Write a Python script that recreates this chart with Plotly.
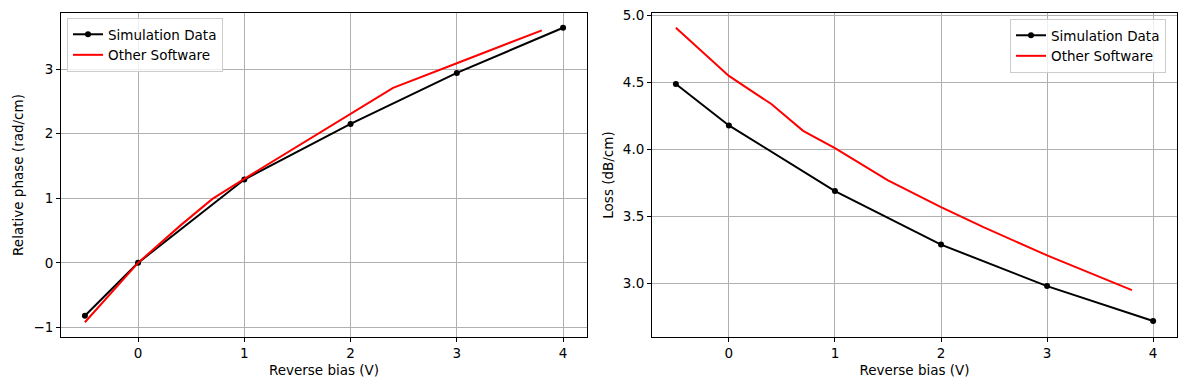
import plotly.graph_objects as go

# Left panel: relative phase
sim_bias = [-0.5, 0, 1, 2, 3, 4]
sim_phase = [-0.82, 0.0, 1.29, 2.15, 2.94, 3.64]
oth_bias_phase = [-0.5, 0, 0.4, 0.7, 1.0, 1.5, 2.0, 2.4, 3.0, 3.8]
oth_phase = [-0.92, 0.0, 0.58, 0.99, 1.30, 1.80, 2.31, 2.71, 3.09, 3.60]

# Right panel: loss
sim_loss = [4.49, 4.18, 3.69, 3.29, 2.98, 2.72]
oth_bias_loss = [-0.5, -0.17, 0, 0.4, 0.7, 1.0, 1.5, 2.0, 2.4, 3.0, 3.8]
oth_loss = [4.91, 4.67, 4.55, 4.34, 4.14, 4.01, 3.77, 3.57, 3.42, 3.21, 2.95]

x_ticks = [0, 1, 2, 3, 4]
phase_ticks = [-1, 0, 1, 2, 3]
loss_ticks = [3.0, 3.5, 4.0, 4.5, 5.0]

FONT = "DejaVu Sans"
FS = 13.5
fig = go.Figure()

fig.add_trace(go.Scatter(x=sim_bias, y=sim_phase, mode="lines+markers", name="Simulation Data",
                         line=dict(color="black", width=2), marker=dict(color="black", size=6),
                         xaxis="x", yaxis="y", legend="legend"))
fig.add_trace(go.Scatter(x=oth_bias_phase, y=oth_phase, mode="lines", name="Other Software",
                         line=dict(color="red", width=2), xaxis="x", yaxis="y", legend="legend"))
fig.add_trace(go.Scatter(x=sim_bias, y=sim_loss, mode="lines+markers", name="Simulation Data",
                         line=dict(color="black", width=2), marker=dict(color="black", size=6),
                         xaxis="x2", yaxis="y2", legend="legend2"))
fig.add_trace(go.Scatter(x=oth_bias_loss, y=oth_loss, mode="lines", name="Other Software",
                         line=dict(color="red", width=2), xaxis="x2", yaxis="y2", legend="legend2"))

ax_common = dict(showline=True, linecolor="black", linewidth=1, mirror=True,
                 ticks="outside", ticklen=4, tickcolor="black", automargin=False,
                 showgrid=True, gridcolor="#b0b0b0", gridwidth=1, zeroline=False,
                 tickfont=dict(family=FONT, size=FS, color="black"))

L, R, T, B = 61, 12, 13, 52
W = 1189 - L - R

fig.update_layout(
    width=1189, height=389,
    margin=dict(l=L, r=R, t=T, b=B, autoexpand=False),
    paper_bgcolor="white", plot_bgcolor="white",
    font=dict(family=FONT, size=FS, color="black"),
    xaxis=dict(domain=[0, (587 - L) / W], range=[-0.725, 4.225], tickvals=x_ticks,
               title=dict(text="Reverse bias (V)", standoff=5, font=dict(size=FS)), anchor="y", **ax_common),
    yaxis=dict(domain=[0, 1], range=[-1.148, 3.868], tickvals=phase_ticks,
               title=dict(text="Relative phase (rad/cm)", standoff=6, font=dict(size=FS)), anchor="x", **ax_common),
    xaxis2=dict(domain=[(652 - L) / W, 1], range=[-0.725, 4.225], tickvals=x_ticks,
                title=dict(text="Reverse bias (V)", standoff=5, font=dict(size=FS)), anchor="y2", **ax_common),
    yaxis2=dict(domain=[0, 1], range=[2.6, 5.02], tickvals=loss_ticks, tickformat=".1f",
                title=dict(text="Loss (dB/cm)", standoff=6, font=dict(size=FS)), anchor="x2", **ax_common),
    legend=dict(x=(67 - L) / W, y=(337 - 18) / 324, xanchor="left", yanchor="top",
                bgcolor="rgba(255,255,255,0.8)", bordercolor="#cccccc", borderwidth=1,
                font=dict(family=FONT, size=FS), tracegroupgap=0, itemwidth=30),
    legend2=dict(x=(1166 - L) / W, y=(337 - 19) / 324, xanchor="right", yanchor="top",
                 bgcolor="rgba(255,255,255,0.8)", bordercolor="#cccccc", borderwidth=1,
                 font=dict(family=FONT, size=FS), tracegroupgap=0, itemwidth=30),
)

fig.write_html("out.html", config={"displayModeBar": False},
               post_script="document.body.style.margin='0';document.body.style.overflow='hidden';")
